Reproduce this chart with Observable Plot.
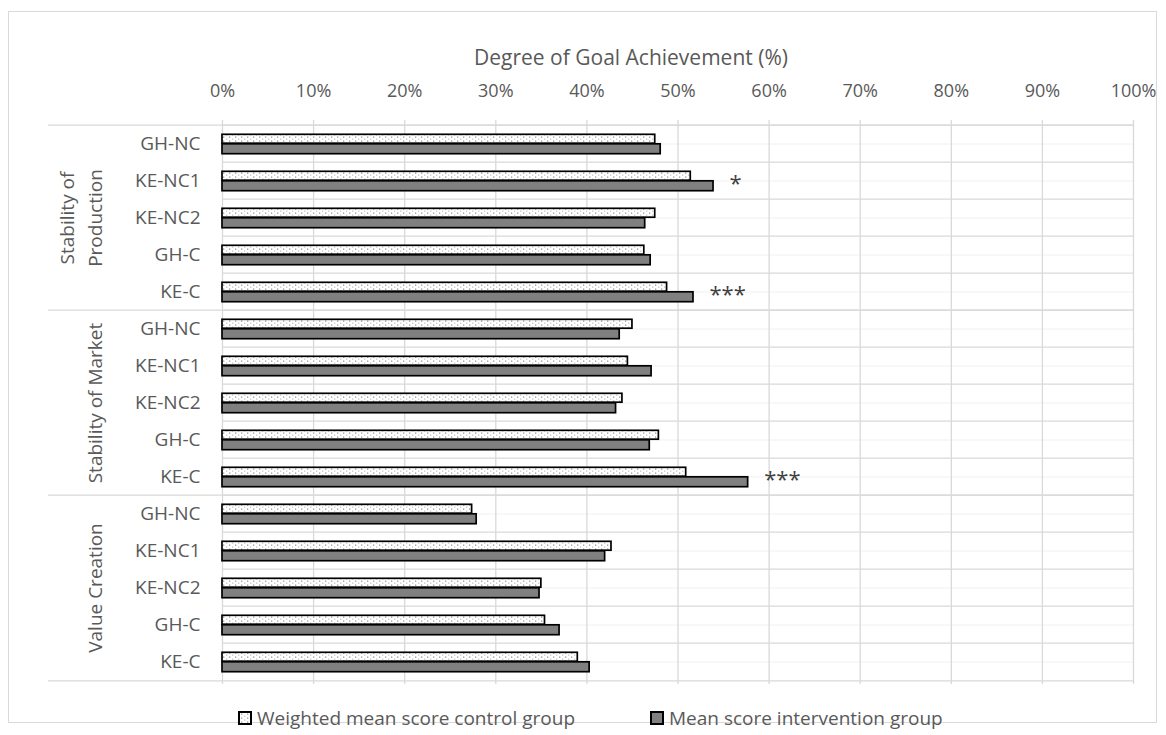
<!DOCTYPE html>
<html>
<head>
<meta charset="utf-8">
<script src="https://cdn.jsdelivr.net/npm/d3@7"></script>
<script src="https://cdn.jsdelivr.net/npm/@observablehq/plot@0.6"></script>
<style>
  body { margin: 0; background: #fff; font-family: "Open Sans", sans-serif; }
  #wrap { position: relative; width: 1166px; height: 735px; overflow: hidden; background: #fff; }
  #border { position: absolute; left: 8px; top: 11px; width: 1149px; height: 712px; border: 1px solid #d9d9d9; box-sizing: border-box; pointer-events: none; }
  #chart { position: absolute; left: 0; top: 0; }
  .sw { position: absolute; top: 711px; width: 14px; height: 14px; box-sizing: border-box; border: 2px solid #000; }
  .lt { position: absolute; top: 703px; font-size: 19px; color: #595959; line-height: 30px; white-space: nowrap; }
</style>
</head>
<body>
<svg width="0" height="0" style="position:absolute">
  <defs>
    <pattern id="dots" width="6" height="4" patternUnits="userSpaceOnUse">
      <rect width="6" height="4" fill="#ffffff"></rect>
      <rect x="1" y="0.5" width="1.3" height="1.3" fill="#9a9a9a"></rect>
      <rect x="4" y="2.5" width="1.3" height="1.3" fill="#c8c8c8"></rect>
    </pattern>
  </defs>
</svg>
<div id="wrap">
  <div id="chart"></div>
  <div id="border"></div>
</div>
<script>
// ---- Data ----
const groups = ["Stability of Production", "Stability of Market", "Value Creation"];
const groupLabels = ["Stability of\nProduction", "Stability of Market", "Value Creation"];
const categories = ["GH-NC", "KE-NC1", "KE-NC2", "GH-C", "KE-C"];

const controlProduction = [47.5, 51.4, 47.5, 46.3, 48.8];
const interventionProduction = [48.1, 53.9, 46.4, 47.0, 51.7];
const controlMarket = [45.0, 44.5, 43.9, 47.9, 50.9];
const interventionMarket = [43.6, 47.1, 43.2, 46.9, 57.7];
const controlValue = [27.4, 42.7, 35.0, 35.4, 39.0];
const interventionValue = [27.9, 42.0, 34.8, 37.0, 40.3];

const sigProduction = ["", "*", "", "", "***"];
const sigMarket = ["", "", "", "", "***"];
const sigValue = ["", "", "", "", ""];

const xTicks = [0, 10, 20, 30, 40, 50, 60, 70, 80, 90, 100];
const axisTitle = "Degree of Goal Achievement (%)";
const seriesNames = ["Weighted mean score control group", "Mean score intervention group"];

// ---- Build table ----
const controlByGroup = [controlProduction, controlMarket, controlValue];
const interventionByGroup = [interventionProduction, interventionMarket, interventionValue];
const sigByGroup = [sigProduction, sigMarket, sigValue];

const rows = [];
groups.forEach((g, gi) => {
  categories.forEach((c, ci) => {
    rows.push({
      key: g + "|" + c,
      group: g,
      category: c,
      control: controlByGroup[gi][ci],
      intervention: interventionByGroup[gi][ci],
      sig: sigByGroup[gi][ci]
    });
  });
});
const keys = rows.map(d => d.key);
const groupFirst = groups.map(g => g + "|" + categories[0]);
const groupLast = [groups[groups.length - 1] + "|" + categories[categories.length - 1]];
const groupMid = groups.map((g, i) => ({key: g + "|" + categories[2], label: groupLabels[i]}));
const sigRows = rows.filter(d => d.sig);

const W = 1166, H = 700, mt = 120, mb = 16, ml = 222, mr = 33;
const band = (H - mt - mb) / keys.length;

const chart = Plot.plot({
  width: W,
  height: H,
  marginTop: mt,
  marginBottom: mb,
  marginLeft: ml,
  marginRight: mr,
  style: {fontFamily: "Open Sans, sans-serif", fontSize: "19px", color: "#595959", background: "transparent", overflow: "visible"},
  x: {domain: [0, 100], axis: null},
  y: {domain: keys, padding: 0, axis: null},
  marks: [
    // faint mid-row lines
    Plot.ruleY(keys, {y: d => d, stroke: "#f0f0f0", strokeWidth: 1}),
    // vertical gridlines
    Plot.ruleX(xTicks, {x: d => d, stroke: "#d9d9d9", strokeWidth: 1.3}),
    // row boundaries
    Plot.ruleY(keys, {y: d => d, dy: -band / 2, stroke: "#d9d9d9", strokeWidth: 1.3}),
    // group separators extending into the label area
    Plot.ruleY(groupFirst, {y: d => d, dy: -band / 2, stroke: "#d9d9d9", strokeWidth: 1.3, insetLeft: -174}),
    Plot.ruleY(groupLast, {y: d => d, dy: band / 2, stroke: "#d9d9d9", strokeWidth: 1.3, insetLeft: -174}),
    // bars
    Plot.rectX(rows, {x1: 0, x2: "control", y: "key", fill: "url(#dots)", stroke: "#000", strokeWidth: 1.7, insetTop: 9.3, insetBottom: band - 18.8}),
    Plot.rectX(rows, {x1: 0, x2: "intervention", y: "key", fill: "#808080", stroke: "#000", strokeWidth: 1.7, insetTop: 18.8, insetBottom: 8.3}),
    // significance stars
    Plot.text(sigRows, {x: "intervention", y: "key", text: "sig", textAnchor: "start", dx: 16, dy: 3, fontSize: 22, fill: "#404040"}),
    // axes
    Plot.axisX({anchor: "top", ticks: xTicks, tickFormat: d => d + "%", tickSize: 0, tickPadding: 24, label: null, fontSize: 18}),
    Plot.axisY({anchor: "left", tickSize: 0, tickPadding: 22, tickFormat: k => k.split("|")[1], label: null, fontSize: 19}),
    // axis title
    Plot.text([axisTitle], {frameAnchor: "top", dx: -47, dy: -70, fontSize: 21, fill: "#595959"}),
    // group labels
    Plot.text(groupMid, {y: "key", text: "label", frameAnchor: "left", dx: -121, rotate: -90, lineAnchor: "bottom", lineHeight: 1.47, textAnchor: "middle", fontSize: 19, fill: "#595959"})
  ]
});
document.getElementById("chart").appendChild(chart);

// ---- Legend ----
const legend = document.getElementById("wrap");
const legendItems = [
  {name: seriesNames[0], swX: 238, txX: 257, fill: "url(#dots)"},
  {name: seriesNames[1], swX: 650, txX: 669, fill: "#808080"}
];
legendItems.forEach(it => {
  const sw = document.createElement("div");
  sw.className = "sw";
  sw.style.left = it.swX + "px";
  if (it.fill.startsWith("url")) {
    sw.innerHTML = '<svg width="10" height="10" style="display:block"><rect width="10" height="10" fill="url(#dots)"></rect></svg>';
  } else {
    sw.style.background = it.fill;
  }
  legend.appendChild(sw);
  const tx = document.createElement("div");
  tx.className = "lt";
  tx.style.left = it.txX + "px";
  tx.textContent = it.name;
  legend.appendChild(tx);
});
</script>
</body>
</html>
